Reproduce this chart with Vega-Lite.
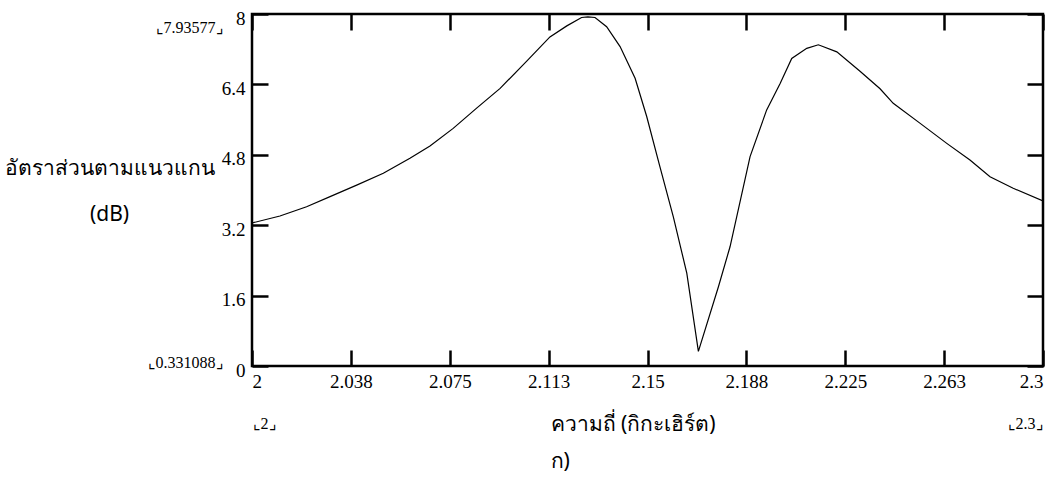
{
  "$schema": "https://vega.github.io/schema/vega-lite/v6.json",
  "width": 791,
  "height": 352,
  "autosize": {"type": "none"},
  "padding": {"left": 252, "top": 14, "right": 13, "bottom": 122},
  "background": "white",
  "config": {
    "view": {"stroke": "black", "strokeWidth": 2.5},
    "axis": {"grid": false, "domain": false, "labelColor": "black", "titleColor": "black", "tickColor": "black"}
  },
  "data": {
    "values": [
      {"f": 2.0000, "r": 3.25},
      {"f": 2.0106, "r": 3.41},
      {"f": 2.0207, "r": 3.62},
      {"f": 2.0296, "r": 3.85},
      {"f": 2.0397, "r": 4.11},
      {"f": 2.0498, "r": 4.38},
      {"f": 2.0599, "r": 4.72},
      {"f": 2.0675, "r": 5.00},
      {"f": 2.0763, "r": 5.40},
      {"f": 2.0852, "r": 5.86},
      {"f": 2.0941, "r": 6.31},
      {"f": 2.1042, "r": 6.93},
      {"f": 2.1130, "r": 7.48},
      {"f": 2.1194, "r": 7.73},
      {"f": 2.1250, "r": 7.92},
      {"f": 2.1274, "r": 7.93577},
      {"f": 2.1301, "r": 7.92},
      {"f": 2.1345, "r": 7.71},
      {"f": 2.1396, "r": 7.26},
      {"f": 2.1453, "r": 6.54},
      {"f": 2.1497, "r": 5.67},
      {"f": 2.1547, "r": 4.53},
      {"f": 2.1598, "r": 3.39},
      {"f": 2.1649, "r": 2.11},
      {"f": 2.1693, "r": 0.331088},
      {"f": 2.1769, "r": 1.80},
      {"f": 2.1813, "r": 2.71},
      {"f": 2.1889, "r": 4.76},
      {"f": 2.1952, "r": 5.82},
      {"f": 2.2003, "r": 6.42},
      {"f": 2.2047, "r": 6.99},
      {"f": 2.2104, "r": 7.22},
      {"f": 2.2148, "r": 7.30},
      {"f": 2.2218, "r": 7.14},
      {"f": 2.2306, "r": 6.70},
      {"f": 2.2382, "r": 6.30},
      {"f": 2.2432, "r": 5.97},
      {"f": 2.2533, "r": 5.52},
      {"f": 2.2635, "r": 5.06},
      {"f": 2.2723, "r": 4.68},
      {"f": 2.2799, "r": 4.30},
      {"f": 2.2887, "r": 4.04},
      {"f": 2.3000, "r": 3.75}
    ]
  },
  "resolve": {"axis": {"x": "independent", "y": "independent"}},
  "layer": [
    {
      "mark": {"type": "line", "color": "black", "strokeWidth": 1.2, "clip": true},
      "encoding": {
        "x": {
          "field": "f", "type": "quantitative",
          "scale": {"domain": [2, 2.3], "nice": false, "zero": false},
          "axis": {
            "orient": "bottom",
            "values": [2, 2.0375, 2.075, 2.1125, 2.15, 2.1875, 2.225, 2.2625, 2.3],
            "labelExpr": "format(datum.value + 1e-9, '.3~f')",
            "tickSize": -16, "tickWidth": 2.5,
            "labelFont": "Liberation Serif", "labelFontSize": 19,
            "labelPadding": 22, "labelFlush": true,
            "title": ["ความถี่ (กิกะเฮิร์ต)", "ก)"],
            "titleFont": "Noto Sans", "titleFontSize": 21, "titleFontWeight": "normal",
            "titleAlign": "left", "titleAnchor": "start", "titleBaseline": "top",
            "titleAngle": 0, "titleX": 298, "titleY": 47, "titleLineHeight": 37
          }
        },
        "y": {
          "field": "r", "type": "quantitative",
          "scale": {"domain": [0, 8], "nice": false, "zero": false},
          "axis": {
            "orient": "left",
            "values": [0, 1.6, 3.2, 4.8, 6.4, 8],
            "labelExpr": "format(datum.value, '.1~f')",
            "tickSize": -16, "tickWidth": 2.5,
            "labelFont": "Liberation Serif", "labelFontSize": 19,
            "labelPadding": 23, "labelOffset": 4,
            "title": ["อัตราส่วนตามแนวแกน", "(dB)"],
            "titleFont": "Noto Sans", "titleFontSize": 21, "titleFontWeight": "normal",
            "titleAlign": "center", "titleBaseline": "top", "titleAngle": 0,
            "titleX": -143, "titleY": 143, "titleLineHeight": 46
          }
        }
      }
    },
    {
      "mark": {"type": "line", "color": "black", "strokeWidth": 1.2, "opacity": 0},
      "encoding": {
        "x": {
          "field": "f", "type": "quantitative",
          "axis": {
            "orient": "top",
            "values": [2, 2.0375, 2.075, 2.1125, 2.15, 2.1875, 2.225, 2.2625, 2.3],
            "labels": false, "tickSize": -16, "tickWidth": 2.5, "title": null
          }
        },
        "y": {
          "field": "r", "type": "quantitative",
          "axis": {
            "orient": "right",
            "values": [0, 1.6, 3.2, 4.8, 6.4, 8],
            "labels": false, "tickSize": -16, "tickWidth": 2.5, "title": null
          }
        }
      }
    },
    {
      "mark": {"type": "line", "opacity": 0},
      "encoding": {
        "x": {
          "field": "f", "type": "quantitative",
          "axis": {
            "orient": "bottom",
            "values": [2, 2.3],
            "labelExpr": "'⌞' + datum.value + '⌟'",
            "ticks": false, "labelFlush": true,
            "labelFont": "Liberation Serif", "labelFontSize": 16,
            "labelPadding": 49, "title": null
          }
        },
        "y": {
          "field": "r", "type": "quantitative",
          "axis": {
            "orient": "left",
            "values": [0.331088, 7.93577],
            "labelExpr": "'⌞' + datum.value + '⌟'",
            "ticks": false,
            "labelFont": "Liberation Serif", "labelFontSize": 16,
            "labelPadding": 29, "labelOffset": 11, "title": null
          }
        }
      }
    }
  ]
}
